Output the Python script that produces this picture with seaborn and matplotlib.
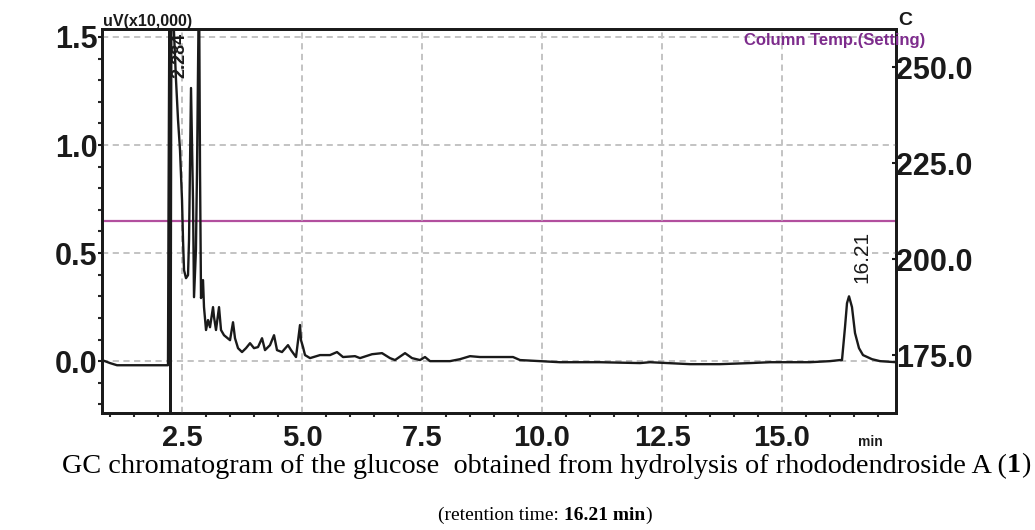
import numpy as np
import pandas as pd
import matplotlib
matplotlib.use("Agg")
import matplotlib.pyplot as plt
import seaborn as sns
from matplotlib.ticker import MultipleLocator, FixedLocator, FormatStrFormatter

# ---------------- data ----------------
time_min = [0.833, 1.0, 1.146, 2.208, 2.219, 2.24, 2.26, 2.28, 2.375, 2.417,
            2.458, 2.5, 2.521, 2.542, 2.583, 2.625, 2.646, 2.6875, 2.729, 2.75,
            2.79, 2.8125, 2.854, 2.875, 2.896, 2.9375, 2.958, 3.0, 3.042, 3.083,
            3.146, 3.167, 3.208, 3.271, 3.3125, 3.375, 3.5, 3.5625, 3.604, 3.667,
            3.75, 3.833, 3.917, 4.0, 4.083, 4.167, 4.229, 4.333, 4.417, 4.479,
            4.583, 4.708, 4.771, 4.875, 4.958, 4.979, 5.021, 5.0625, 5.167, 5.375,
            5.583, 5.729, 5.854, 6.104, 6.208, 6.458, 6.667, 6.833, 6.9375, 7.146,
            7.292, 7.458, 7.5625, 7.667, 8.083, 8.29, 8.5, 8.708, 9.125, 9.396,
            9.542, 10.375, 11.208, 12.042, 12.25, 13.083, 13.708, 14.333, 14.75, 15.583,
            16.0, 16.208, 16.25, 16.3125, 16.354, 16.396, 16.458, 16.521, 16.604, 16.6875,
            16.875, 17.042, 17.375]
signal = [0.005, -0.009, -0.019, -0.019, 0.704, 1.8, -0.4, 1.8, 1.30, 1.116,
          0.977, 0.745, 0.56, 0.421, 0.384, 0.398, 0.56, 1.264, 0.745, 0.296,
          0.514, 0.884, 1.8, 0.884, 0.292, 0.375, 0.25, 0.144, 0.19, 0.157,
          0.25, 0.204, 0.144, 0.25, 0.144, 0.12, 0.097, 0.18, 0.106, 0.06,
          0.042, 0.06, 0.083, 0.06, 0.065, 0.106, 0.051, 0.074, 0.12, 0.051,
          0.042, 0.074, 0.051, 0.019, 0.167, 0.097, 0.065, 0.028, 0.014, 0.028,
          0.028, 0.042, 0.019, 0.023, 0.014, 0.032, 0.037, 0.014, 0.005, 0.037,
          0.014, 0.005, 0.019, 0.0, 0.0, 0.009, 0.023, 0.019, 0.019, 0.019,
          0.005, -0.005, -0.005, -0.009, -0.005, -0.014, -0.014, -0.009, -0.005, -0.005,
          0.0, 0.005, 0.005, 0.157, 0.268, 0.30, 0.25, 0.13, 0.06, 0.028,
          0.009, 0.0, -0.005]

temp_time = [0.833, 17.375]
temp_c = [210.0, 210.0]

x_ticks = [2.5, 5.0, 7.5, 10.0, 12.5, 15.0]
y_ticks = [0.0, 0.5, 1.0, 1.5]
temp_ticks = [175.0, 200.0, 225.0, 250.0]

peak_labels = ["2.284", "16.21"]
peak_label_x = [2.46, 16.67]

caption_line1 = [("GC chromatogram of the glucose  obtained from hydrolysis of rhododendroside A (", "normal"),
                 ("1", "bold"), (")", "normal")]
caption_line2 = [("(retention time: ", "normal"), ("16.21 min", "bold"), (")", "normal")]

# ---------------- styling ----------------
sns.set_style("white")
plt.rcParams["font.family"] = ["Liberation Sans", "DejaVu Sans"]
narrow = ["Liberation Sans Narrow", "Liberation Sans", "DejaVu Sans"]

fig = plt.figure(figsize=(10.35, 5.3), dpi=100)
ax = fig.add_axes([102 / 1035, 1 - 413 / 530, (896 - 102) / 1035, (413 - 29) / 530])
ax2 = ax.twinx()

df = pd.DataFrame({"time": time_min, "signal": signal})
tdf = pd.DataFrame({"time": temp_time, "temp": temp_c})

sns.lineplot(data=tdf, x="time", y="temp", ax=ax2, color="#b24f9e", linewidth=1.6,
             sort=False, estimator=None)
sns.lineplot(data=df, x="time", y="signal", ax=ax, color="#1a1a1a", linewidth=1.7,
             sort=False, estimator=None)

ax.set_zorder(ax2.get_zorder() + 1)
ax.patch.set_visible(False)

ax.set_xlim(0.833, 17.375)
ax.set_ylim(-0.24, 1.537)
ax2.set_ylim(160, 260)

ax.set_xlabel("")
ax.set_ylabel("")
ax2.set_ylabel("")

ax.xaxis.set_major_locator(FixedLocator(x_ticks))
ax.xaxis.set_minor_locator(MultipleLocator(0.5))
ax.yaxis.set_major_locator(FixedLocator(y_ticks))
ax.yaxis.set_minor_locator(MultipleLocator(0.1))
ax.xaxis.set_major_formatter(FormatStrFormatter("%.1f"))
ax.yaxis.set_major_formatter(FormatStrFormatter("%.1f"))
ax2.yaxis.set_major_locator(FixedLocator(temp_ticks))
ax2.yaxis.set_major_formatter(FormatStrFormatter("%.1f"))

ax.grid(True, which="major", color="#c3c3c3", linestyle=(0, (3.2, 2.3)), linewidth=1.4)
ax2.grid(False)

for a in (ax, ax2):
    for s in a.spines.values():
        s.set_color("#1a1a1a")
        s.set_linewidth(2.0)
        s.set_visible(True)

ax.tick_params(axis="x", which="major", direction="out", length=4, width=1.5, pad=4,
               labelsize=21, colors="#1a1a1a")
ax.tick_params(axis="x", which="minor", direction="out", length=3, width=1.5, bottom=True)
ax.tick_params(axis="y", which="major", direction="out", length=3, width=1.5, pad=0,
               labelsize=22, colors="#1a1a1a")
ax.tick_params(axis="y", which="minor", direction="out", length=3, width=1.5, left=True)
ax2.tick_params(axis="y", which="major", direction="in", length=3, width=1.5, pad=0,
                labelsize=22, colors="#1a1a1a")
for lab in ax.get_xticklabels() + ax.get_yticklabels() + ax2.get_yticklabels():
    lab.set_fontweight("bold")

# annotations
ax.text(peak_label_x[0], 1.52, peak_labels[0], rotation=90, ha="center", va="top",
        fontsize=13, fontweight="bold", family=narrow, color="#1a1a1a")
ax.text(peak_label_x[1], 0.36, peak_labels[1], rotation=90, ha="center", va="bottom",
        fontsize=15, family=narrow, color="#1a1a1a")

fig.text(103 / 1035, 1 - 29 / 530, "uV(x10,000)", ha="left", va="bottom", fontsize=11.6,
         fontweight="bold", family=narrow, color="#1a1a1a")
fig.text(905 / 1035, 1 - 29 / 530, "C", ha="center", va="bottom", fontsize=14,
         fontweight="bold", family=narrow, color="#1a1a1a")
fig.text(925 / 1035, 1 - 41 / 530, "Column Temp.(Setting)", ha="right", va="center",
         fontsize=12, fontweight="bold", family=narrow, color="#7d2c8c")
fig.text(870 / 1035, 1 - 442 / 530, "min", ha="center", va="center", fontsize=10,
         fontweight="bold", family=narrow, color="#1a1a1a")

# caption with mixed weights
fig.canvas.draw()
renderer = fig.canvas.get_renderer()


def centered_pieces(pieces, xc, yc, size):
    arts = []
    widths = []
    for txt, w in pieces:
        t = fig.text(0, yc, txt, fontsize=size, fontweight=w, family=["Liberation Serif", "DejaVu Serif"],
                     ha="left", va="center", color="black")
        bb = t.get_window_extent(renderer=renderer)
        arts.append(t)
        widths.append(bb.width / fig.bbox.width)
    total = sum(widths)
    x = xc - total / 2
    for t, w in zip(arts, widths):
        t.set_x(x)
        x += w


centered_pieces(caption_line1, 546 / 1035, 1 - 466 / 530, 20.3)
centered_pieces(caption_line2, 545 / 1035, 1 - 515 / 530, 14)

fig.savefig("out.png", dpi=100)
